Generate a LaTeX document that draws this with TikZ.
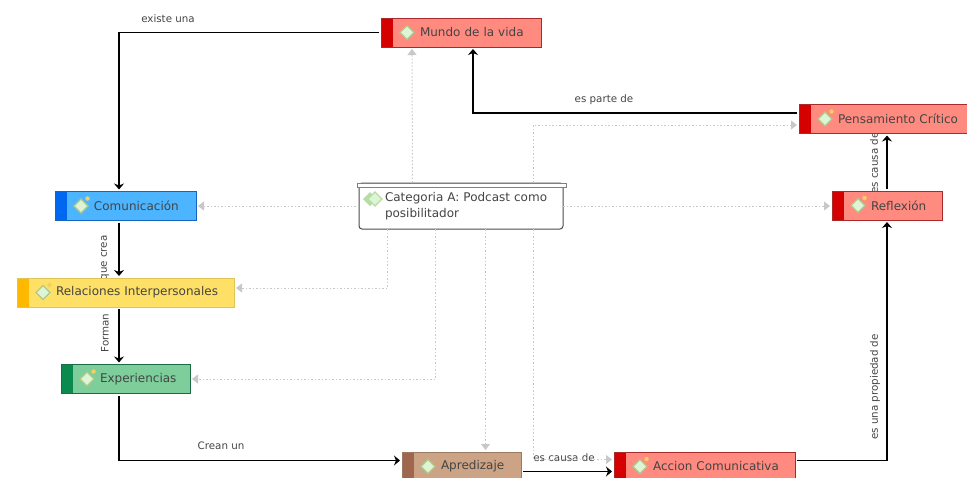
\documentclass[tikz,border=0pt]{standalone}
\usepackage{fontspec}
\setmainfont{DejaVu Sans}
\usetikzlibrary{positioning, arrows.meta}

\definecolor{redfill}{HTML}{FF8A80}
\definecolor{redband}{HTML}{D50000}
\definecolor{redline}{HTML}{A82A2A}
\definecolor{bluefill}{HTML}{4DB5FF}
\definecolor{blueband}{HTML}{0068F0}
\definecolor{blueline}{HTML}{1565C0}
\definecolor{yellowfill}{HTML}{FFE066}
\definecolor{yellowband}{HTML}{FFB800}
\definecolor{yellowline}{HTML}{E0C458}
\definecolor{greenfill}{HTML}{7DCE9B}
\definecolor{greenband}{HTML}{0B8A50}
\definecolor{greenline}{HTML}{1B6B45}
\definecolor{brownfill}{HTML}{CCA384}
\definecolor{brownband}{HTML}{A0674F}
\definecolor{brownline}{HTML}{9A7A60}
\definecolor{iconfill}{HTML}{DDF5D5}
\definecolor{iconline}{HTML}{B0C88A}
\definecolor{icondark}{HTML}{B5DDA5}
\definecolor{dotfill}{HTML}{F5D060}
\definecolor{softgray}{HTML}{C8C8C8}
\definecolor{labelgray}{HTML}{444444}

\tikzset{
    concept/.style n args={4}{draw=#3, fill=#1, line width=0.8pt, outer sep=2pt,
        minimum height=29pt, minimum width=#4pt, text width=#4pt, inner xsep=0pt,
        align=left, font=\fontsize{12}{14}\selectfont, text=labelgray,
        execute at begin node={\hspace*{39pt}},
        path picture={
            \fill[#2] (path picture bounding box.south west) rectangle ([xshift=12pt]path picture bounding box.north west);
            \draw[fill=iconfill, draw=iconline, line width=1.1pt] ([xshift=19pt]path picture bounding box.west) -- ++(7,-7) -- ++(7,7) -- ++(-7,7) -- cycle;
        }},
    withdot/.style={
        append after command={
            (\tikzlastnode.west) ++(34.5,-7.5) node[circle, fill=dotfill, inner sep=0pt, minimum size=4.5pt] {}
        }},
    linkline/.style={draw=black, line width=1.1pt, -{Stealth[length=6pt, width=10pt]}},
    softline/.style={draw=softgray, line width=1pt, dash pattern=on 1.5pt off 2pt, -{Triangle[length=6pt, width=9pt]}},
    linklabel/.style={text=labelgray, font=\fontsize{10.3}{12}\selectfont, inner sep=0pt},
}

\begin{document}
\begin{tikzpicture}[x=1pt, y=-1pt]
    \useasboundingbox (0,0) rectangle (967,477);

    \node[linklabel] (lexiste) at (168,19) {existe una};
    \node[linklabel] (lparte) at (604,100) {es parte de};
    \node[linklabel, rotate=90] (lcrea) at (105,258) {que crea};
    \node[linklabel, rotate=90] (lforman) at (105,333) {Forman};
    \node[linklabel] (lcrean) at (221,446) {Crean un};
    \node[linklabel] (lcausaa) at (564,458) {es causa de};
    \node[linklabel, rotate=90] (lcausab) at (874,163) {es causa de};
    \node[linklabel, rotate=90] (lpropiedad) at (875,387) {es una propiedad de};

    \node[concept={redfill}{redband}{redline}{160}] (mundo) at (461,32.5) {Mundo de la vida};
    \node[concept={redfill}{redband}{redline}{168}, withdot] (pensamiento) at (883,119) {Pensamiento Crítico};
    \node[concept={redfill}{redband}{redline}{110}, withdot] (reflexion) at (887,205.5) {Reflexión};
    \node[concept={bluefill}{blueband}{blueline}{141}, withdot] (comunicacion) at (125.5,206) {Comunicación};
    \node[concept={yellowfill}{yellowband}{yellowline}{217}, withdot] (relaciones) at (125.5,292.5) {Relaciones Interpersonales};
    \node[concept={greenfill}{greenband}{greenline}{129}, withdot] (experiencias) at (125.5,379) {Experiencias};
    \node[concept={brownfill}{brownband}{brownline}{119}] (apredizaje) at (461.5,466.5) {Apredizaje};
    \node[concept={redfill}{redband}{redline}{181}, withdot] (accion) at (704.5,466.5) {Accion Comunicativa};

    \node[draw=black!70, fill=white, rounded corners=3pt, line width=1pt, minimum width=204pt, minimum height=46pt,
        text width=204pt, inner xsep=0pt, outer sep=0pt, align=left, text=labelgray,
        font=\fontsize{12}{16}\selectfont] (categoria) at (461,206) {\hspace*{26pt}Categoria A: Podcast como\\\hspace*{26pt}posibilitador};
    \node[draw=black!50, fill=white, line width=0.8pt, minimum width=209pt, minimum height=4pt, inner sep=0pt] (categoriabar) at (461.5,185) {};
    \fill[icondark] ([shift={(4,16)}]categoria.north west) -- ++(7,-7) -- ++(7,7) -- ++(-7,7) -- cycle;
    \draw[fill=iconfill, draw=icondark, line width=1.1pt] ([shift={(9,16)}]categoria.north west) -- ++(7,-7) -- ++(7,7) -- ++(-7,7) -- cycle;

    \draw[linkline] (mundo.west) -| ([xshift=-6.5pt]comunicacion.north);
    \draw[linkline] ([yshift=6pt]pensamiento.west) -| ([xshift=12pt]mundo.south);
    \draw[linkline] (reflexion.north) -- (reflexion.north |- pensamiento.south);
    \draw[linkline] ([yshift=6pt]accion.east) -| (reflexion.south);
    \draw[linkline] ([xshift=-6.5pt]comunicacion.south) -- ([xshift=-6.5pt]relaciones.north);
    \draw[linkline] ([xshift=-6.5pt]relaciones.south) -- ([xshift=-6.5pt]experiencias.north);
    \draw[linkline] ([xshift=-6.5pt]experiencias.south) |- ([yshift=6pt]apredizaje.west);
    \draw[linkline] ([yshift=-5pt]apredizaje.east) -- ([yshift=-5pt]accion.west);

    \draw[softline] ([xshift=-49pt]categoriabar.north) -- ([xshift=-49pt]mundo.south);
    \draw[softline] ([xshift=71.5pt]categoriabar.north) |- ([yshift=-6pt]pensamiento.west);
    \draw[softline] (categoria.west) -- (comunicacion.east);
    \draw[softline] (categoria.east) -- (reflexion.west |- categoria.east);
    \draw[softline] ([xshift=-73.5pt]categoria.south) |- (relaciones.east |- 0,288);
    \draw[softline] ([xshift=-25.5pt]categoria.south) |- (experiencias.east);
    \draw[softline] ([xshift=24.5pt]categoria.south) -- ([xshift=24pt]apredizaje.north);
    \draw[softline] ([xshift=72.5pt]categoria.south) |- ([yshift=7pt]accion.west);
\end{tikzpicture}
\end{document}
